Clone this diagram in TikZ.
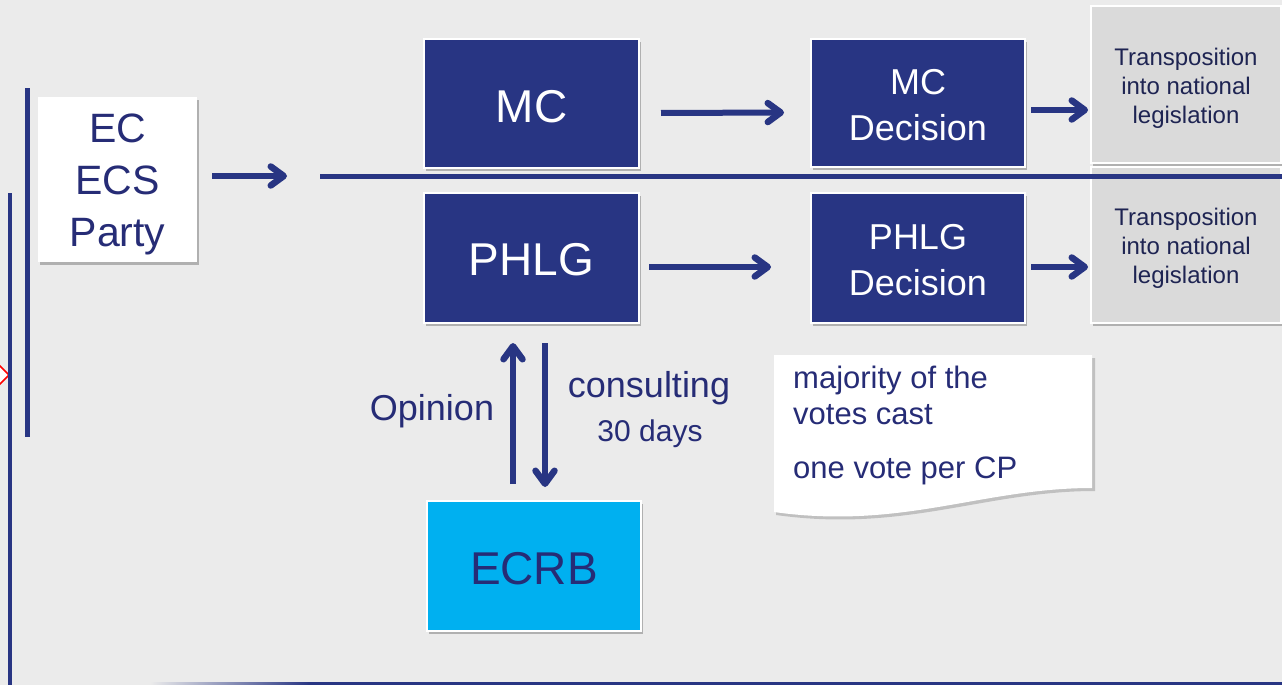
\documentclass[tikz,border=0pt]{standalone}
\usepackage{fontspec}
\setmainfont{Liberation Sans}
\usetikzlibrary{arrows.meta,shadows}
\definecolor{bg}{RGB}{235,235,235}
\definecolor{navy}{RGB}{40,53,131}
\definecolor{navytext}{RGB}{38,44,118}
\definecolor{darktext}{RGB}{30,36,82}
\definecolor{cyanbox}{RGB}{0,176,240}
\definecolor{graybox}{RGB}{218,218,218}
\tikzset{
  boxshadow/.style={drop shadow={shadow xshift=2pt,shadow yshift=-3pt,opacity=0.25,fill=black}},
  bluebox/.style={draw=white,line width=2pt,fill=navy,inner sep=0pt,
    minimum width=215pt,minimum height=129pt,boxshadow},
  greybox/.style={draw=white,line width=2pt,fill=graybox,inner sep=0pt,
    minimum width=190pt,boxshadow},
  boxtext/.style={text=white,inner sep=0pt,align=center},
  greytext/.style={text=darktext,inner sep=0pt,align=center,font=\fontsize{24}{29}\selectfont},
  arr/.style={draw=navy,line width=6pt,line cap=butt,
    -{Straight Barb[length=13pt,width=19pt,line width=6.5pt,line cap=round,line join=round]}},
  lbl/.style={text=navytext,inner sep=0pt,align=center},
}
\begin{document}
\begin{tikzpicture}[x=1pt,y=-1pt]
\useasboundingbox (0,0) rectangle (1282,685);
\fill[bg] (0,0) rectangle (1282,685);
% partial red marker at left edge
\filldraw[fill=white,draw=red,line width=1.5pt] (-12,354) -- (9,375) -- (-12,396) -- cycle;
% decorative lines
\fill[navy] (25,88) rectangle (30,437);
\fill[navy] (8,193) rectangle (12,685);
\shade[left color=bg,right color=navy] (150,682) rectangle (310,685);
\fill[navy] (310,682) rectangle (1282,685);
% separator
\coordinate (sepL) at (320,176);
\coordinate (sepR) at (1282,176);
% boxes
\node[greybox,minimum height=157pt] (T1) at (1186,84.5) {};
\node[greytext] (T1t) at ([shift={(0,3.5)}]T1.center) {Transposition\\into national\\legislation};
\node[greybox,minimum height=156pt] (T2) at (1186,245) {};
\node[greytext] (T2t) at ([shift={(0,3.5)}]T2.center) {Transposition\\into national\\legislation};
\draw[navy,line width=5pt] (sepL) -- (sepR);
\node[fill=white,inner sep=0pt,minimum width=159pt,minimum height=165pt,boxshadow] (EC) at (117.5,179.5) {};
\node[lbl,font=\fontsize{41}{52}\selectfont] (ECt) at ([shift={(0,5)}]EC.center) {EC\\ECS\\Party};
\node[bluebox] (MC) at (531.5,103.5) {};
\node[boxtext,font=\fontsize{46}{52}\selectfont] (MCt) at ([shift={(0,3)}]MC.center) {MC};
\node[bluebox,minimum width=214pt,minimum height=128pt] (MCD) at (918,103) {};
\node[boxtext,font=\fontsize{36}{46}\selectfont] (MCDt) at ([shift={(0,2.5)}]MCD.center) {MC\\Decision};
\node[bluebox,minimum height=130pt] (PHLG) at (531.5,258) {};
\node[boxtext,font=\fontsize{46}{52}\selectfont] (PHLGt) at ([shift={(0,2)}]PHLG.center) {PHLG};
\node[bluebox,minimum width=214pt,minimum height=130pt] (PHLGD) at (918,258) {};
\node[boxtext,font=\fontsize{36}{46}\selectfont] (PHLGDt) at ([shift={(0,2)}]PHLGD.center) {PHLG\\Decision};
\node[bluebox,fill=cyanbox,minimum width=214pt,minimum height=130pt] (ECRB) at (534,566) {};
\node[lbl,font=\fontsize{46}{52}\selectfont] (ECRBt) at ([shift={(0,2.5)}]ECRB.center) {ECRB};
% note
\fill[black,opacity=0.18] (776,358) -- (1095,358) -- (1095,491)
  .. controls (985,491) and (905,533) .. (776,515) -- cycle;
\fill[white] (774,355) -- (1092,355) -- (1092,488)
  .. controls (982,488) and (902,530) .. (774,512) -- cycle;
\node[lbl,anchor=north west,align=left,font=\fontsize{31}{36}\selectfont] (note1) at (793,366) {majority of the\\votes cast};
\node[lbl,anchor=north west,align=left,font=\fontsize{31}{36}\selectfont] (note2) at (793,457) {one vote per CP};
% arrows
\coordinate (ecend) at (287,176);
\draw[arr] ([shift={(15,-3.5)}]EC.east) -- (ecend);
\draw[arr] ([shift={(21,9.5)}]MC.east) -- ([shift={(-26,9.5)}]MCD.west);
\draw[arr] ([shift={(5,7)}]MCD.east) -- ([shift={(-2,25.5)}]T1.west);
\draw[arr] ([shift={(9,9)}]PHLG.east) -- ([shift={(-39,9)}]PHLGD.west);
\draw[arr] ([shift={(5,9)}]PHLGD.east) -- ([shift={(-2,22)}]T2.west);
\draw[arr] ([shift={(-21,-16)}]ECRB.north) -- ([shift={(-18.5,19)}]PHLG.south);
\draw[arr] ([shift={(13.5,19)}]PHLG.south) -- ([shift={(11,-13)}]ECRB.north);
% labels
\node[lbl,font=\fontsize{36}{40}\selectfont] (op) at (432,411) {Opinion};
\node[lbl,font=\fontsize{36}{40}\selectfont] (cons) at (649,388) {consulting};
\node[lbl,font=\fontsize{30}{34}\selectfont] (days) at (650,434) {30 days};
\end{tikzpicture}
\end{document}
